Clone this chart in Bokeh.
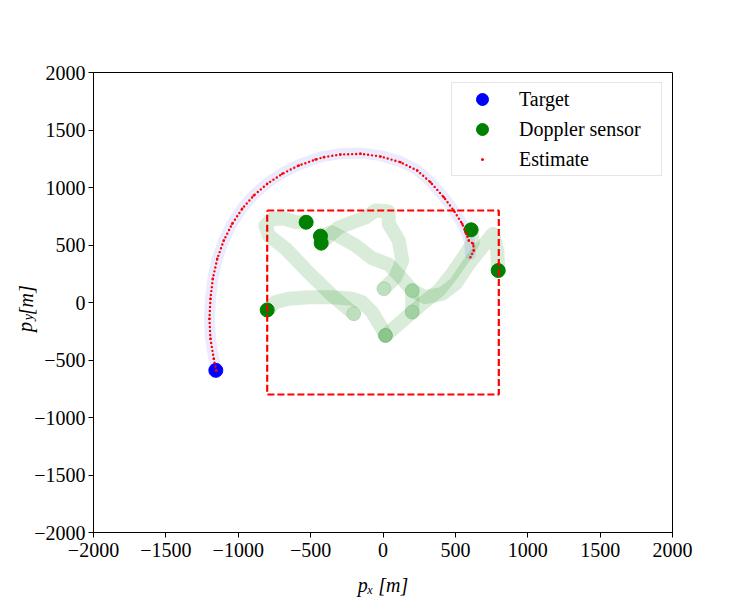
import math
from bokeh.plotting import figure
from bokeh.models import Range1d, FixedTicker, Legend, LegendItem, LinearAxis
from bokeh.embed import file_html
from bokeh.resources import INLINE

# ---------------- data ----------------
tick_vals = [-2000, -1500, -1000, -500, 0, 500, 1000, 1500, 2000]
tick_labels = ["\u22122000", "\u22121500", "\u22121000", "\u2212500", "0", "500", "1000", "1500", "2000"]

target_x = [-1155]
target_y = [-590]

sensor_x = [-800, -531, -432, -427, 609, 796]
sensor_y = [-65, 698, 577, 516, 632, 278]

# sensor trails (each ends at the sensor's current position)
trail1_x = [17, -6, -75, -144, -213, -351, -513, -651, -743, -800]
trail1_y = [-287, -229, -84, 3, 32, 46, 46, 32, 3, -65]
trail2_x = [-202, -351, -515, -674, -789, -812, -766, -674, -604, -531]
trail2_y = [-98, 61, 261, 470, 583, 670, 728, 728, 698, 698]
trail3_x = [6, 86, 133, 109, 40, 38, -52, -121, -307, -427]
trail3_y = [119, 220, 365, 539, 684, 791, 800, 739, 652, 516]
trail4_x = [202, 202, 133, 40, -75, -190, -351, -432]
trail4_y = [-84, 104, 206, 330, 385, 496, 611, 577]
trail5_x = [17, 202, 271, 386, 478, 560, 620, 609]
trail5_y = [-287, -84, -11, 104, 250, 400, 520, 632]
trail6_x = [202, 294, 409, 501, 593, 685, 759, 789, 796]
trail6_y = [104, 46, 75, 163, 336, 481, 597, 452, 278]

# true target trajectory
truth_x = [-1152, -1169, -1192, -1199, -1192, -1176, -1145, -1100, -1042, -973, -893, -800, -696,
           -582, -466, -409, -294, -155, -17, 121, 236, 328, 420, 489, 547, 580, 600, 604]
truth_y = [-591, -490, -316, -142, 32, 206, 380, 542, 688, 820, 936, 1038, 1126,
           1198, 1250, 1271, 1294, 1300, 1277, 1226, 1153, 1050, 918, 800, 684, 600, 520, 420]

# estimated trajectory
est_x = [-1152, -1169, -1192, -1199, -1192, -1176, -1145, -1100, -1042, -973, -893, -800, -696,
         -582, -466, -409, -294, -155, -17, 121, 236, 328, 420, 489, 547, 575, 593, 623, 627, 604]
est_y = [-591, -490, -316, -142, 32, 206, 380, 539, 684, 815, 930, 1032, 1119,
         1191, 1243, 1264, 1287, 1293, 1270, 1220, 1148, 1046, 916, 800, 684, 600, 539, 510, 452, 394]

# surveillance region
box_x = [-800, 800, 800, -800, -800]
box_y = [800, 800, -800, -800, 800]

# axis label texts
xlabel = "p\u2093 [m]"
ylabel_main = ["p", "[m]"]
ylabel_sub = ["y"]

# ---------------- figure ----------------
FONT = "Liberation Serif"

p = figure(width=747, height=598,
           x_range=Range1d(-2000, 2000), y_range=Range1d(-2000, 2000),
           output_backend="svg", toolbar_location=None,
           min_border_left=93, min_border_right=75,
           min_border_top=72, min_border_bottom=66)
p.grid.visible = False
p.outline_line_color = "black"
p.outline_line_width = 1
p.outline_line_alpha = 1
p.background_fill_color = "white"
p.border_fill_color = "white"

for ax in (p.xaxis[0], p.yaxis[0]):
    ax.ticker = FixedTicker(ticks=tick_vals)
    ax.major_label_overrides = {v: s for v, s in zip(tick_vals, tick_labels)}
    ax.major_tick_in = 0
    ax.major_tick_out = 5
    ax.minor_tick_line_color = None
    ax.axis_line_color = "black"
    ax.major_tick_line_color = "black"
    ax.major_label_text_font = FONT
    ax.major_label_text_font_size = "20px"
    ax.major_label_text_color = "black"
p.xaxis[0].major_label_standoff = 5
p.yaxis[0].major_label_standoff = 3

p.xaxis[0].axis_label = xlabel
p.xaxis[0].axis_label_text_font = FONT
p.xaxis[0].axis_label_text_font_size = "20px"
p.xaxis[0].axis_label_text_font_style = "italic"
p.xaxis[0].axis_label_text_color = "black"
p.xaxis[0].axis_label_standoff = 14

# y label built from two extra (tick-less) axes: subscript row + main row
sub_pos = [-100]
main_pos = [-170, 150]

def text_axis(positions, texts, size, standoff):
    a = LinearAxis(ticker=FixedTicker(ticks=positions),
                   major_label_overrides={v: s for v, s in zip(positions, texts)},
                   axis_line_color=None, major_tick_line_color=None,
                   minor_tick_line_color=None, major_tick_out=0, major_tick_in=0,
                   major_label_standoff=standoff, major_label_orientation=math.pi / 2,
                   major_label_text_font=FONT, major_label_text_font_size=size,
                   major_label_text_font_style="italic", major_label_text_color="black")
    p.add_layout(a, "left")
    return a

text_axis(sub_pos, ylabel_sub, "14px", 3)
text_axis(main_pos, ylabel_main, "20px", -15)

# sensor trails
green = "#008000"
for tx, ty in [(trail1_x, trail1_y), (trail2_x, trail2_y), (trail3_x, trail3_y),
               (trail4_x, trail4_y), (trail5_x, trail5_y), (trail6_x, trail6_y)]:
    p.line(tx, ty, line_color=green, line_alpha=0.15, line_width=14,
           line_cap="round", line_join="round")
    p.scatter(tx[:1], ty[:1], marker="circle", size=14, fill_color=green,
              fill_alpha=0.12, line_color=green, line_alpha=0.15)

# true trajectory
p.line(truth_x, truth_y, line_color="blue", line_alpha=0.08, line_width=11,
       line_cap="round", line_join="round")

r_target = p.scatter(target_x, target_y, marker="circle", size=14,
                     fill_color="blue", line_color="blue")
r_sensor = p.scatter(sensor_x, sensor_y, marker="circle", size=14,
                     fill_color=green, line_color=green)

# estimate (dotted)
p.line(est_x, est_y, line_color="red", line_width=2.4, line_dash="0 4",
       line_cap="round", line_join="round")
r_est = p.scatter(est_x, est_y, marker="dot", size=10, line_color="red",
                  fill_color="red")

# region box
p.line(box_x, box_y, line_color="red", line_width=2.2, line_dash="7 3")

legend = Legend(items=[LegendItem(label="Target", renderers=[r_target]),
                       LegendItem(label="Doppler sensor", renderers=[r_sensor]),
                       LegendItem(label="Estimate", renderers=[r_est])],
                location="top_right", margin=10, padding=1, spacing=0,
                glyph_width=58, glyph_height=30, label_height=30,
                label_standoff=8, label_width=141,
                label_text_font=FONT, label_text_font_size="20px",
                label_text_color="black",
                border_line_color="#cccccc", border_line_width=1.3,
                background_fill_color="white", background_fill_alpha=0.8)
p.add_layout(legend)

open("out.html", "w").write(file_html(p, INLINE))
